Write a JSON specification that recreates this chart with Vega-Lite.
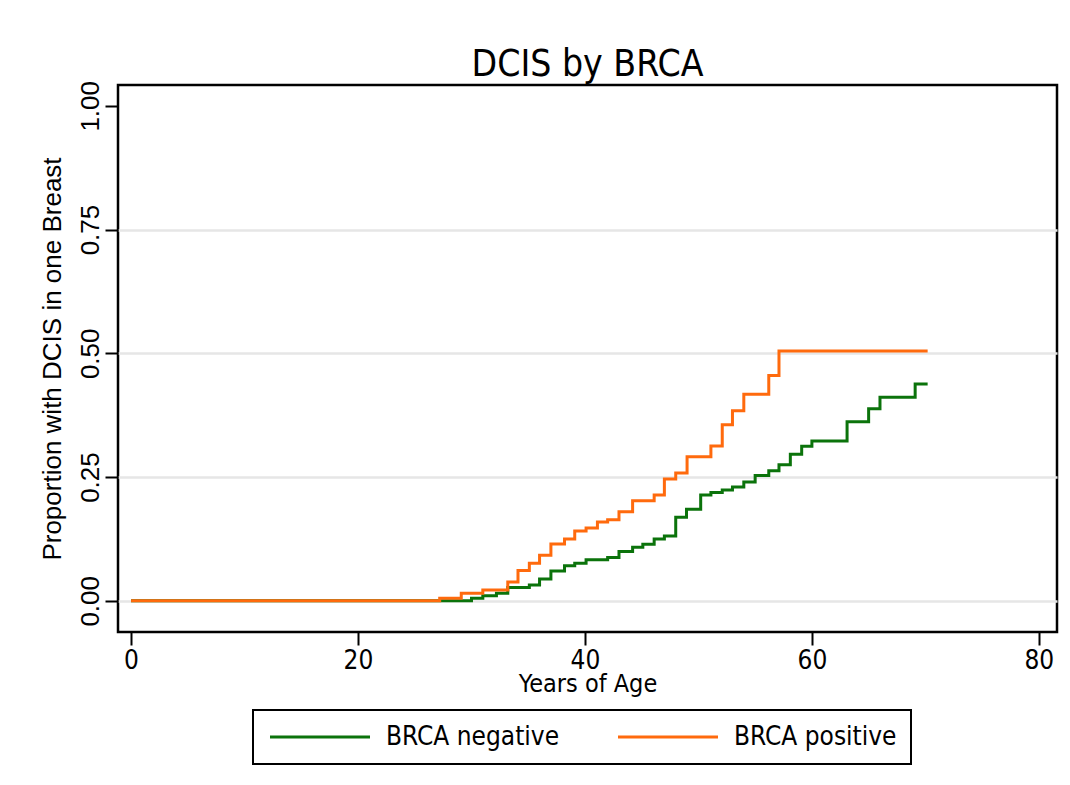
{
  "$schema": "https://vega.github.io/schema/vega-lite/v6.json",
  "width": 939,
  "height": 547,
  "autosize": {"type": "none"},
  "padding": {"left": 118, "top": 85, "right": 13, "bottom": 153},
  "background": "white",
  "title": {
    "text": "DCIS by BRCA",
    "font": "Liberation Sans Narrow, DejaVu Sans Condensed, sans-serif",
    "fontSize": 37,
    "fontWeight": "normal",
    "color": "#000",
    "anchor": "middle",
    "offset": -4
  },
  "data": {
    "values": [
      {"group": "BRCA negative", "age": 0, "prop": 0},
      {"group": "BRCA negative", "age": 30.0, "prop": 0.005},
      {"group": "BRCA negative", "age": 31.0, "prop": 0.010},
      {"group": "BRCA negative", "age": 32.2, "prop": 0.0155},
      {"group": "BRCA negative", "age": 33.2, "prop": 0.027},
      {"group": "BRCA negative", "age": 35.1, "prop": 0.032},
      {"group": "BRCA negative", "age": 36.0, "prop": 0.044},
      {"group": "BRCA negative", "age": 37.0, "prop": 0.060},
      {"group": "BRCA negative", "age": 38.2, "prop": 0.0707},
      {"group": "BRCA negative", "age": 39.1, "prop": 0.076},
      {"group": "BRCA negative", "age": 40.1, "prop": 0.083},
      {"group": "BRCA negative", "age": 42.0, "prop": 0.0875},
      {"group": "BRCA negative", "age": 43.0, "prop": 0.0996},
      {"group": "BRCA negative", "age": 44.2, "prop": 0.108},
      {"group": "BRCA negative", "age": 45.1, "prop": 0.1145},
      {"group": "BRCA negative", "age": 46.1, "prop": 0.125},
      {"group": "BRCA negative", "age": 47.0, "prop": 0.131},
      {"group": "BRCA negative", "age": 48.0, "prop": 0.169},
      {"group": "BRCA negative", "age": 48.95, "prop": 0.185},
      {"group": "BRCA negative", "age": 50.2, "prop": 0.214},
      {"group": "BRCA negative", "age": 51.1, "prop": 0.219},
      {"group": "BRCA negative", "age": 52.1, "prop": 0.224},
      {"group": "BRCA negative", "age": 53.0, "prop": 0.230},
      {"group": "BRCA negative", "age": 54.0, "prop": 0.240},
      {"group": "BRCA negative", "age": 55.0, "prop": 0.253},
      {"group": "BRCA negative", "age": 56.2, "prop": 0.2626},
      {"group": "BRCA negative", "age": 57.1, "prop": 0.2747},
      {"group": "BRCA negative", "age": 58.1, "prop": 0.296},
      {"group": "BRCA negative", "age": 59.1, "prop": 0.312},
      {"group": "BRCA negative", "age": 60.0, "prop": 0.323},
      {"group": "BRCA negative", "age": 63.1, "prop": 0.3616},
      {"group": "BRCA negative", "age": 65.0, "prop": 0.388},
      {"group": "BRCA negative", "age": 66.0, "prop": 0.411},
      {"group": "BRCA negative", "age": 69.1, "prop": 0.438},
      {"group": "BRCA negative", "age": 70.2, "prop": 0.438},
      {"group": "BRCA positive", "age": 0, "prop": 0},
      {"group": "BRCA positive", "age": 27.2, "prop": 0.005},
      {"group": "BRCA positive", "age": 29.1, "prop": 0.0155},
      {"group": "BRCA positive", "age": 31.0, "prop": 0.022},
      {"group": "BRCA positive", "age": 33.2, "prop": 0.038},
      {"group": "BRCA positive", "age": 34.1, "prop": 0.061},
      {"group": "BRCA positive", "age": 35.1, "prop": 0.076},
      {"group": "BRCA positive", "age": 36.0, "prop": 0.092},
      {"group": "BRCA positive", "age": 37.0, "prop": 0.115},
      {"group": "BRCA positive", "age": 38.2, "prop": 0.125},
      {"group": "BRCA positive", "age": 39.1, "prop": 0.141},
      {"group": "BRCA positive", "age": 40.1, "prop": 0.147},
      {"group": "BRCA positive", "age": 41.1, "prop": 0.159},
      {"group": "BRCA positive", "age": 42.0, "prop": 0.164},
      {"group": "BRCA positive", "age": 43.0, "prop": 0.180},
      {"group": "BRCA positive", "age": 44.2, "prop": 0.202},
      {"group": "BRCA positive", "age": 46.1, "prop": 0.214},
      {"group": "BRCA positive", "age": 47.0, "prop": 0.246},
      {"group": "BRCA positive", "age": 48.0, "prop": 0.258},
      {"group": "BRCA positive", "age": 49.0, "prop": 0.291},
      {"group": "BRCA positive", "age": 51.1, "prop": 0.3125},
      {"group": "BRCA positive", "age": 52.1, "prop": 0.3555},
      {"group": "BRCA positive", "age": 53.0, "prop": 0.384},
      {"group": "BRCA positive", "age": 54.0, "prop": 0.4175},
      {"group": "BRCA positive", "age": 56.2, "prop": 0.455},
      {"group": "BRCA positive", "age": 57.1, "prop": 0.5044},
      {"group": "BRCA positive", "age": 70.2, "prop": 0.5044}
    ]
  },
  "mark": {"type": "line", "interpolate": "step-after", "strokeWidth": 3, "clip": true},
  "encoding": {
    "x": {
      "field": "age",
      "type": "quantitative",
      "scale": {"domain": [-1.15, 81.6], "nice": false, "zero": false},
      "axis": {
        "title": "Years of Age",
        "values": [0, 20, 40, 60, 80],
        "grid": false,
        "domain": false,
        "tickSize": 13,
        "tickWidth": 2,
        "tickColor": "#000",
        "labelFont": "Liberation Sans Narrow, DejaVu Sans Condensed, sans-serif",
        "labelFontSize": 26,
        "labelColor": "#000",
        "labelPadding": 2,
        "labelFlush": false,
        "titleFont": "Liberation Sans Narrow, DejaVu Sans Condensed, sans-serif",
        "titleFontSize": 25,
        "titleFontWeight": "normal",
        "titleColor": "#000",
        "titlePadding": -2
      }
    },
    "y": {
      "field": "prop",
      "type": "quantitative",
      "scale": {"domain": [-0.063, 1.042], "nice": false, "zero": false},
      "axis": {
        "title": "Proportion with DCIS in one Breast",
        "values": [0, 0.25, 0.5, 0.75, 1],
        "format": ".2f",
        "grid": true,
        "gridColor": {"condition": {"test": "datum.value >= 1", "value": "transparent"}, "value": "#e6e6e6"},
        "gridWidth": 2.5,
        "domain": false,
        "tickSize": 13,
        "tickWidth": 2,
        "tickColor": "#000",
        "labelAngle": -90,
        "labelAlign": "center",
        "labelBaseline": "bottom",
        "labelFont": "Liberation Sans, Arial, sans-serif",
        "labelFontSize": 26,
        "labelColor": "#000",
        "labelPadding": 2,
        "labelFlush": false,
        "titleFont": "Liberation Sans, Arial, sans-serif",
        "titleFontSize": 26,
        "titleFontWeight": "normal",
        "titleColor": "#000",
        "titlePadding": 12
      }
    },
    "color": {
      "field": "group",
      "type": "nominal",
      "scale": {"domain": ["BRCA negative", "BRCA positive"], "range": ["#0b730b", "#ff6a0d"]},
      "legend": {
        "title": null,
        "orient": "none",
        "legendX": 135,
        "legendY": 625,
        "direction": "horizontal",
        "strokeColor": "#000",
        "fillColor": "white",
        "padding": 14,
        "symbolType": "M-1,0H9",
        "symbolSize": 400,
        "symbolStrokeWidth": 3,
        "labelFont": "Liberation Sans Narrow, DejaVu Sans Condensed, sans-serif",
        "labelFontSize": 26,
        "labelColor": "#000",
        "labelOffset": 93,
        "labelLimit": 400,
        "columnPadding": 52,
        "encode": {"legend": {"update": {"strokeWidth": {"value": 2}}}}
      }
    }
  },
  "config": {
    "view": {"stroke": "#000", "strokeWidth": 2.5}
  }
}
